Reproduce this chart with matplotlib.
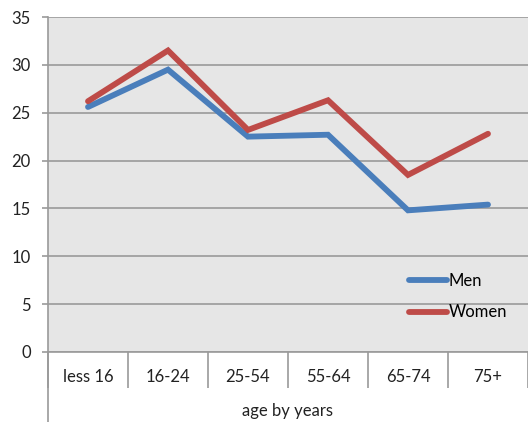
import numpy as np
import matplotlib.pyplot as plt
from matplotlib.lines import Line2D

categories = ['less 16', '16-24', '25-54', '55-64', '65-74', '75+']
men = [25.6, 29.5, 22.5, 22.7, 14.8, 15.4]
women = [26.2, 31.5, 23.2, 26.3, 18.5, 22.8]

plt.rcParams['font.family'] = ['Lato', 'DejaVu Sans']
plt.rcParams['font.size'] = 12

fig = plt.figure(figsize=(5.28, 4.22), dpi=100)
ax = fig.add_axes([48/528, 70/422, 480/528, 335/422])
ax.set_facecolor('#e6e6e6')

x = np.arange(len(categories))
ax.plot(x, men, color='#4a7ebb', lw=4.2, label='Men', solid_capstyle='round', solid_joinstyle='miter')
ax.plot(x, women, color='#be4b48', lw=4.2, label='Women', solid_capstyle='round', solid_joinstyle='miter')

ax.set_xlim(-0.5, len(categories) - 0.5)
ax.set_ylim(0, 35)
ax.set_yticks(np.arange(0, 36, 5))
ax.yaxis.grid(True, color='#9a9a9a', lw=1.2)
ax.set_axisbelow(True)

ax.set_xticks(x)
ax.set_xticklabels(categories)
ax.set_xticks(np.arange(-0.5, len(categories)), minor=True)
ax.tick_params(axis='x', which='major', length=0, pad=12, colors='#222222')
ax.tick_params(axis='x', which='minor', length=26, width=1.2, color='#9a9a9a', direction='out')
ax.tick_params(axis='y', length=4.5, width=1.2, color='#9a9a9a', pad=8)
for lab in ax.get_yticklabels():
    lab.set_color('#222222')

for s in ['top', 'right']:
    ax.spines[s].set_visible(False)
for s in ['left', 'bottom']:
    ax.spines[s].set_color('#9a9a9a')
    ax.spines[s].set_linewidth(1.2)

# left axis line continues down through the label area
fig.add_artist(Line2D([48/528, 48/528], [0, 70/422], color='#9a9a9a', lw=1.2))

fig.text(288/528, 11/422, 'age by years', ha='center', va='center', color='#222222')

ax.legend(loc='center left', bbox_to_anchor=((409 - 48)/480, (352 - 296.5)/335),
          frameon=False, borderpad=0, borderaxespad=0,
          handlelength=2.25, handletextpad=0.15, labelspacing=0.95)

plt.savefig('out.png')
